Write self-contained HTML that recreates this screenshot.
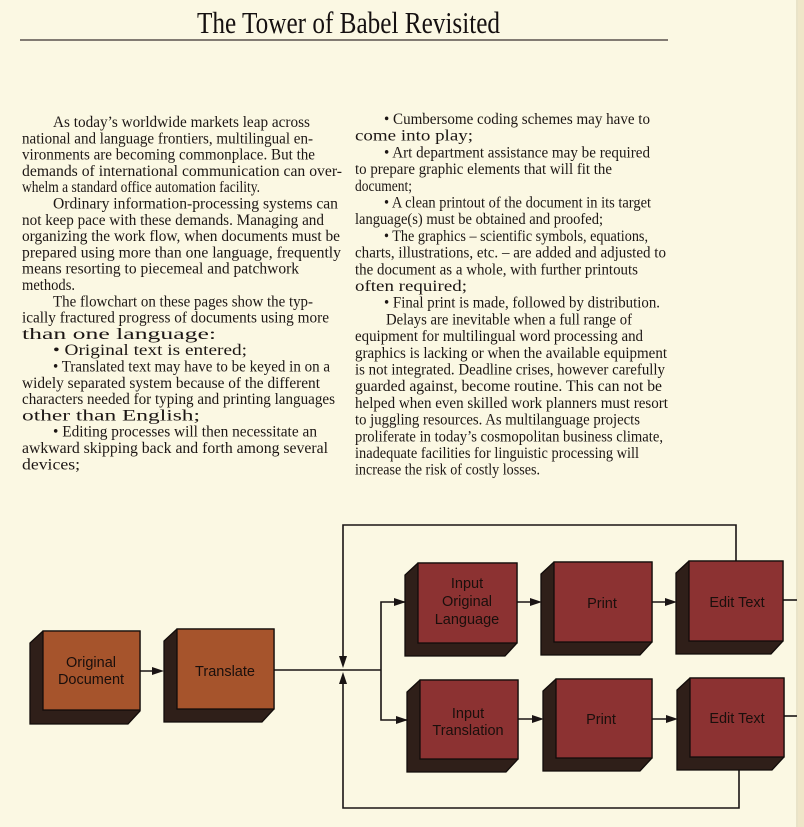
<!DOCTYPE html>
<html><head><meta charset="utf-8"><style>
html,body{margin:0;padding:0;background:#faf6e0;}
svg{display:block;}
.t{font-family:"Liberation Serif",serif;font-size:16px;fill:#1c1614;}
.b{font-family:"Liberation Sans",sans-serif;font-size:14.5px;fill:#1a0f0c;text-anchor:middle;}
</style></head><body>
<svg width="804" height="827" viewBox="0 0 804 827" xmlns="http://www.w3.org/2000/svg">
<rect width="804" height="827" fill="#fbf8e3"/>
<line x1="797" y1="0" x2="797" y2="827" stroke="#e3dcc0" stroke-width="1.5"/>
<rect x="798" y="0" width="6" height="827" fill="#efe6c8"/>
<text x="197" y="33" font-family="Liberation Serif,serif" font-size="31" fill="#151010" textLength="303" lengthAdjust="spacingAndGlyphs">The Tower of Babel Revisited</text>
<line x1="20" y1="40" x2="668" y2="40" stroke="#3a3030" stroke-width="1.2"/>

<g class="t">
<text x="53" y="127" textLength="257" lengthAdjust="spacingAndGlyphs">As today’s worldwide markets leap across</text>
<text x="22" y="143.3" textLength="291" lengthAdjust="spacingAndGlyphs">national and language frontiers, multilingual en-</text>
<text x="22" y="159.6" textLength="293" lengthAdjust="spacingAndGlyphs">vironments are becoming commonplace. But the</text>
<text x="22" y="175.9" textLength="320" lengthAdjust="spacingAndGlyphs">demands of international communication can over-</text>
<text x="22" y="192.2" textLength="238" lengthAdjust="spacingAndGlyphs">whelm a standard office automation facility.</text>
<text x="53" y="208.5" textLength="285" lengthAdjust="spacingAndGlyphs">Ordinary information-processing systems can</text>
<text x="22" y="224.8" textLength="302" lengthAdjust="spacingAndGlyphs">not keep pace with these demands. Managing and</text>
<text x="22" y="241.1" textLength="318" lengthAdjust="spacingAndGlyphs">organizing the work flow, when documents must be</text>
<text x="22" y="257.4" textLength="319" lengthAdjust="spacingAndGlyphs">prepared using more than one language, frequently</text>
<text x="22" y="273.7" textLength="277" lengthAdjust="spacingAndGlyphs">means resorting to piecemeal and patchwork</text>
<text x="22" y="290" textLength="53" lengthAdjust="spacingAndGlyphs">methods.</text>
<text x="53" y="306.3" textLength="260" lengthAdjust="spacingAndGlyphs">The flowchart on these pages show the typ-</text>
<text x="22" y="322.6" textLength="307" lengthAdjust="spacingAndGlyphs">ically fractured progress of documents using more</text>
<text x="22" y="338.9" textLength="194" lengthAdjust="spacingAndGlyphs">than one language:</text>
<text x="53" y="355.2" textLength="194" lengthAdjust="spacingAndGlyphs">• Original text is entered;</text>
<text x="53" y="371.5" textLength="277" lengthAdjust="spacingAndGlyphs">• Translated text may have to be keyed in on a</text>
<text x="22" y="387.8" textLength="298" lengthAdjust="spacingAndGlyphs">widely separated system because of the different</text>
<text x="22" y="404.1" textLength="313" lengthAdjust="spacingAndGlyphs">characters needed for typing and printing languages</text>
<text x="22" y="420.4" textLength="178" lengthAdjust="spacingAndGlyphs">other than English;</text>
<text x="53" y="436.7" textLength="264" lengthAdjust="spacingAndGlyphs">• Editing processes will then necessitate an</text>
<text x="22" y="453" textLength="306" lengthAdjust="spacingAndGlyphs">awkward skipping back and forth among several</text>
<text x="22" y="469.3" textLength="58" lengthAdjust="spacingAndGlyphs">devices;</text>

<text x="384" y="124" textLength="266" lengthAdjust="spacingAndGlyphs">• Cumbersome coding schemes may have to</text>
<text x="355" y="140.7" textLength="118" lengthAdjust="spacingAndGlyphs">come into play;</text>
<text x="384" y="157.4" textLength="266" lengthAdjust="spacingAndGlyphs">• Art department assistance may be required</text>
<text x="355" y="174.1" textLength="257" lengthAdjust="spacingAndGlyphs">to prepare graphic elements that will fit the</text>
<text x="355" y="190.8" textLength="57" lengthAdjust="spacingAndGlyphs">document;</text>
<text x="384" y="207.5" textLength="267" lengthAdjust="spacingAndGlyphs">• A clean printout of the document in its target</text>
<text x="355" y="224.2" textLength="248" lengthAdjust="spacingAndGlyphs">language(s) must be obtained and proofed;</text>
<text x="384" y="240.9" textLength="264" lengthAdjust="spacingAndGlyphs">• The graphics – scientific symbols, equations,</text>
<text x="355" y="257.6" textLength="311" lengthAdjust="spacingAndGlyphs">charts, illustrations, etc. – are added and adjusted to</text>
<text x="355" y="274.3" textLength="283" lengthAdjust="spacingAndGlyphs">the document as a whole, with further printouts</text>
<text x="355" y="291" textLength="112" lengthAdjust="spacingAndGlyphs">often required;</text>
<text x="384" y="307.7" textLength="276" lengthAdjust="spacingAndGlyphs">• Final print is made, followed by distribution.</text>
<text x="386" y="324.4" textLength="246" lengthAdjust="spacingAndGlyphs">Delays are inevitable when a full range of</text>
<text x="355" y="341.1" textLength="288" lengthAdjust="spacingAndGlyphs">equipment for multilingual word processing and</text>
<text x="355" y="357.8" textLength="312" lengthAdjust="spacingAndGlyphs">graphics is lacking or when the available equipment</text>
<text x="355" y="374.5" textLength="310" lengthAdjust="spacingAndGlyphs">is not integrated. Deadline crises, however carefully</text>
<text x="355" y="391.2" textLength="307" lengthAdjust="spacingAndGlyphs">guarded against, become routine. This can not be</text>
<text x="355" y="407.9" textLength="313" lengthAdjust="spacingAndGlyphs">helped when even skilled work planners must resort</text>
<text x="355" y="424.6" textLength="285" lengthAdjust="spacingAndGlyphs">to juggling resources. As multilanguage projects</text>
<text x="355" y="441.3" textLength="308" lengthAdjust="spacingAndGlyphs">proliferate in today’s cosmopolitan business climate,</text>
<text x="355" y="458" textLength="284" lengthAdjust="spacingAndGlyphs">inadequate facilities for linguistic processing will</text>
<text x="355" y="474.7" textLength="185" lengthAdjust="spacingAndGlyphs">increase the risk of costly losses.</text>
</g>

<g stroke="#1a1414" stroke-width="1.6" fill="none">
<polyline points="736,561 736,525 343,525 343,665"/>
<polyline points="739,770 739,808 343,808 343,676"/>
<line x1="274" y1="670" x2="381" y2="670"/>
<polyline points="405,602 381,602 381,720 407,720"/>
<line x1="140" y1="671" x2="160" y2="671"/>
<line x1="517" y1="602" x2="538" y2="602"/>
<line x1="652" y1="602" x2="673" y2="602"/>
<line x1="518" y1="719" x2="540" y2="719"/>
<line x1="652" y1="719" x2="674" y2="719"/>
<line x1="783" y1="600" x2="797" y2="600"/>
<line x1="784" y1="716" x2="797" y2="716"/>
</g>
<g fill="#1a1414">
<polygon points="343,668 339,656 347,656"/>
<polygon points="343,672 339,684 347,684"/>
<polygon points="406,602 394,598 394,606"/>
<polygon points="408,720 396,716 396,724"/>
<polygon points="164,671 152,667 152,675"/>
<polygon points="542,602 530,598 530,606"/>
<polygon points="677,602 665,598 665,606"/>
<polygon points="544,719 532,715 532,723"/>
<polygon points="678,719 666,715 666,723"/>
</g>

<g stroke="#120c0a" stroke-width="1.3">
<polygon points="43,631 30,643 30,724 128,724 140,711 140,631" fill="#2f1f19"/>
<rect x="43" y="631" width="97" height="79" fill="#a6542c"/>
<polygon points="177,629 164,641 164,722 262,722 274,709 274,629" fill="#2f1f19"/>
<rect x="177" y="629" width="97" height="80" fill="#a6542c"/>

<polygon points="418,563 405,575 405,656 505,656 517,643 517,563" fill="#2f1f19"/>
<rect x="418" y="563" width="99" height="80" fill="#8c3232"/>
<polygon points="554,562 541,574 541,655 640,655 652,642 652,562" fill="#2f1f19"/>
<rect x="554" y="562" width="98" height="80" fill="#8c3232"/>
<polygon points="689,561 676,573 676,654 771,654 783,641 783,561" fill="#2f1f19"/>
<rect x="689" y="561" width="94" height="80" fill="#8c3232"/>

<polygon points="420,680 407,692 407,772 506,772 518,759 518,680" fill="#2f1f19"/>
<rect x="420" y="680" width="98" height="79" fill="#8c3232"/>
<polygon points="556,679 543,691 543,771 640,771 652,758 652,679" fill="#2f1f19"/>
<rect x="556" y="679" width="96" height="79" fill="#8c3232"/>
<polygon points="690,678 677,690 677,770 772,770 784,757 784,678" fill="#2f1f19"/>
<rect x="690" y="678" width="94" height="79" fill="#8c3232"/>
</g>

<g class="b">
<text x="91" y="667">Original</text>
<text x="91" y="684">Document</text>
<text x="225" y="676">Translate</text>
<text x="467" y="588">Input</text>
<text x="467" y="606">Original</text>
<text x="467" y="624">Language</text>
<text x="602" y="608">Print</text>
<text x="737" y="607">Edit Text</text>
<text x="468" y="718">Input</text>
<text x="468" y="735">Translation</text>
<text x="601" y="724">Print</text>
<text x="737" y="723">Edit Text</text>
</g>
</svg>
</body></html>
